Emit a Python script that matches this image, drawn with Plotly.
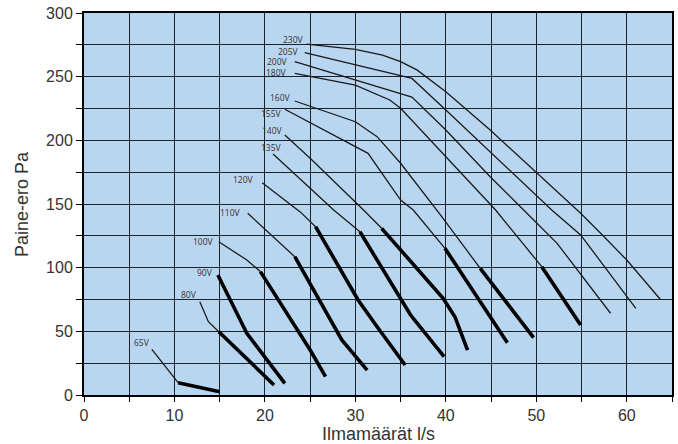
import plotly.graph_objects as go

# Fan curves: (voltage label, thin part, thick part) as (l/s, Pa) points
labels = ["65V", "80V", "90V", "100V", "110V", "120V", "135V", "140V",
          "155V", "160V", "180V", "200V", "205V", "230V"]

thin_x = {
    "65V": [7.5, 10.4],
    "80V": [12.8, 13.75, 14.9],
    "90V": [],
    "100V": [14.9, 18.0, 19.5],
    "110V": [18.1, 23.3],
    "120V": [19.7, 23.9, 25.6],
    "135V": [20.9, 27.6, 30.5],
    "140V": [22.2, 25.0, 30.9, 32.9],
    "155V": [22.2, 31.4, 35.0, 36.4, 39.9],
    "160V": [23.3, 30.0, 32.4, 35.0, 39.4, 43.8],
    "180V": [23.3, 25.0, 30.0, 33.8, 35.0, 45.5, 50.6],
    "200V": [23.3, 36.25, 40.0, 44.9, 48.6, 52.3, 58.2],
    "205V": [24.4, 36.25, 40.0, 44.9, 51.7, 54.9, 61.0],
    "230V": [24.6, 30.0, 33.0, 35.0, 36.8, 40.0, 44.9, 50.0, 54.9, 57.3, 60.0, 63.7],
}
thin_y = {
    "65V": [35.9, 9.7],
    "80V": [73.3, 57.6, 49.7],
    "90V": [],
    "100V": [120.4, 106.0, 96.9],
    "110V": [142.7, 108.6],
    "120V": [166.7, 143.8, 132.2],
    "135V": [189.3, 145.3, 128.2],
    "140V": [204.2, 185.9, 145.3, 130.9],
    "155V": [224.4, 189.8, 153.1, 145.3, 115.2],
    "160V": [230.9, 214.6, 202.9, 182.0, 141.4, 99.5],
    "180V": [252.6, 250.3, 243.3, 231.7, 225.2, 145.3, 100.8],
    "200V": [261.8, 234.0, 208.1, 171.4, 145.3, 119.1, 64.2],
    "205V": [268.8, 248.6, 223.8, 191.0, 145.3, 125.7, 68.1],
    "230V": [275.5, 271.5, 267.0, 261.8, 255.3, 238.2, 208.1, 175.0, 142.7, 125.7, 106.0, 75.2],
}
thick_x = {
    "65V": [10.4, 15.0],
    "80V": [14.9, 21.0],
    "90V": [14.8, 18.0, 22.2],
    "100V": [19.5, 25.0, 26.7],
    "110V": [23.3, 28.5, 31.3],
    "120V": [25.6, 30.3, 32.4, 35.5],
    "135V": [30.5, 35.0, 36.1, 39.8],
    "140V": [32.9, 39.7, 41.0, 42.4],
    "155V": [39.9, 44.9, 46.8],
    "160V": [43.8, 49.7],
    "180V": [50.6, 54.9],
    "200V": [],
    "205V": [],
    "230V": [],
}
thick_y = {
    "65V": [9.7, 2.6],
    "80V": [49.7, 7.9],
    "90V": [94.2, 48.4, 9.2],
    "100V": [96.9, 35.3, 14.4],
    "110V": [108.6, 43.2, 19.6],
    "120V": [132.2, 74.6, 53.6, 23.6],
    "135V": [128.2, 74.6, 62.8, 30.1],
    "140V": [130.9, 75.9, 61.5, 35.3],
    "155V": [115.2, 61.5, 41.1],
    "160V": [99.5, 45.0],
    "180V": [100.8, 55.0],
    "200V": [],
    "205V": [],
    "230V": [],
}

x_ticks = list(range(0, 66, 5))
x_ticktext = [str(v) if v % 10 == 0 else "" for v in x_ticks]
y_ticks = list(range(0, 301, 25))
y_ticktext = [str(v) if v % 50 == 0 else "" for v in y_ticks]

# pixel nudges of each voltage label from its curve's first point (left, up)
label_nudge = {
    "65V": (0, 7), "80V": (1, 7), "90V": (3, 3), "100V": (3, 0), "110V": (5, 1),
    "120V": (6, 3), "135V": (-11, 6), "140V": (0, 4), "155V": (1, -4),
    "160V": (2, 3), "180V": (6, 1), "200V": (5, 0), "205V": (4, 1), "230V": (1, 5),
}

fig = go.Figure()
annotations = []
for lab in labels:
    if thin_x[lab]:
        fig.add_trace(go.Scatter(x=thin_x[lab], y=thin_y[lab], mode="lines",
                                 line=dict(color="#1a1a1a", width=1.3), showlegend=False))
    if thick_x[lab]:
        fig.add_trace(go.Scatter(x=thick_x[lab], y=thick_y[lab], mode="lines",
                                 line=dict(color="#000000", width=3.6), showlegend=False))
    sx = thin_x[lab][0] if thin_x[lab] else thick_x[lab][0]
    sy = thin_y[lab][0] if thin_y[lab] else thick_y[lab][0]
    dx, dy = label_nudge[lab]
    annotations.append(dict(x=sx, y=sy, text=lab, showarrow=False,
                            xanchor="right", yanchor="middle", xshift=-dx, yshift=dy,
                            font=dict(family="Open Sans, sans-serif", size=8.5, color="#333")))

tick_font = dict(family="Liberation Sans, Arial", size=16, color="#333")
title_font = dict(family="Liberation Sans, Arial", size=18, color="#333")

# axis titles placed by hand so the plot area keeps its size
annotations.append(dict(text="Ilmamäärät l/s", xref="paper", yref="paper", x=0.5, y=0,
                        xanchor="center", yanchor="top", yshift=-27, showarrow=False,
                        font=title_font))
annotations.append(dict(text="Paine-ero Pa", xref="paper", yref="paper", x=0, y=0.5,
                        xanchor="center", yanchor="middle", xshift=-62, textangle=-90,
                        showarrow=False, font=title_font))

fig.update_layout(
    width=678, height=444,
    margin=dict(l=84, r=6, t=13, b=49),
    paper_bgcolor="white",
    plot_bgcolor="#b9d6f0",
    annotations=annotations,
    xaxis=dict(range=[0, 65], tickvals=x_ticks, ticktext=x_ticktext, automargin=False,
               ticks="outside", ticklen=5, tickcolor="black", tickfont=tick_font,
               showgrid=True, gridcolor="#1c232b", gridwidth=1.4,
               showline=True, linecolor="black", linewidth=2, mirror=True,
               zeroline=False),
    yaxis=dict(range=[0, 300], tickvals=y_ticks, ticktext=y_ticktext, automargin=False,
               ticks="outside", ticklen=6, tickcolor="black", tickfont=tick_font,
               showgrid=True, gridcolor="#1c232b", gridwidth=1.4,
               showline=True, linecolor="black", linewidth=2, mirror=True,
               zeroline=False),
)

# drop the default 8px page margin so the figure sits at the window's corner
fig.write_html("out.html", config={"displayModeBar": False},
               post_script="document.body.style.margin = '0';")
